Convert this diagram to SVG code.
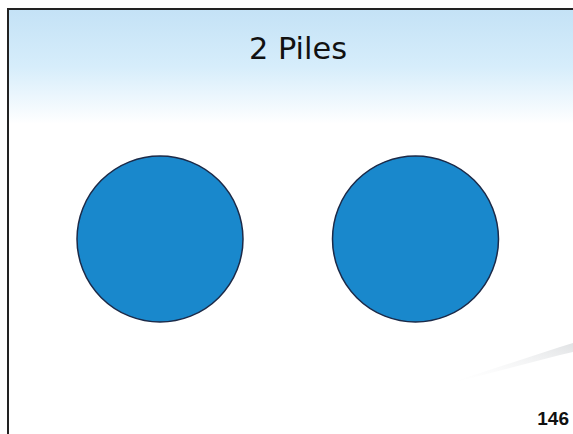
<svg xmlns="http://www.w3.org/2000/svg" width="573" height="434" viewBox="0 0 573 434">
<defs>
<linearGradient id="bg" x1="0" y1="0" x2="0" y2="1">
<stop offset="0" stop-color="#c4e2f6"/>
<stop offset="0.5" stop-color="#d6edfb"/>
<stop offset="1" stop-color="#ffffff"/>
</linearGradient>
<linearGradient id="streak" x1="0" y1="1" x2="1" y2="0">
<stop offset="0" stop-color="#ffffff" stop-opacity="0"/>
<stop offset="1" stop-color="#e0e2e4"/>
</linearGradient>
<style>
.pile{fill:#1988cc;stroke:#1c2a48;stroke-width:1.5}
.title{font-family:"DejaVu Sans Condensed","DejaVu Sans",Tahoma,sans-serif;font-size:31px;fill:#111}
.num{font-family:"Liberation Sans",Arial,sans-serif;font-size:19px;font-weight:bold;fill:#111}
</style>
</defs>
<rect x="0" y="0" width="573" height="434" fill="#ffffff"/>
<rect x="8" y="9" width="565" height="115" fill="url(#bg)"/>
<path d="M440 386 L560 347 L573 343 L573 352 L560 355 Z" fill="url(#streak)"/>
<path d="M8 434 V9 H573" fill="none" stroke="#222" stroke-width="2"/>
<text class="title" x="298" y="59" text-anchor="middle" textLength="98" lengthAdjust="spacingAndGlyphs">2 Piles</text>
<g id="pile1"><circle class="pile" cx="160" cy="239" r="83"/></g>
<g id="pile2"><circle class="pile" cx="415.5" cy="239" r="83"/></g>
<g id="connectors"></g>
<text class="num" x="569" y="425" text-anchor="end">146</text>
</svg>
